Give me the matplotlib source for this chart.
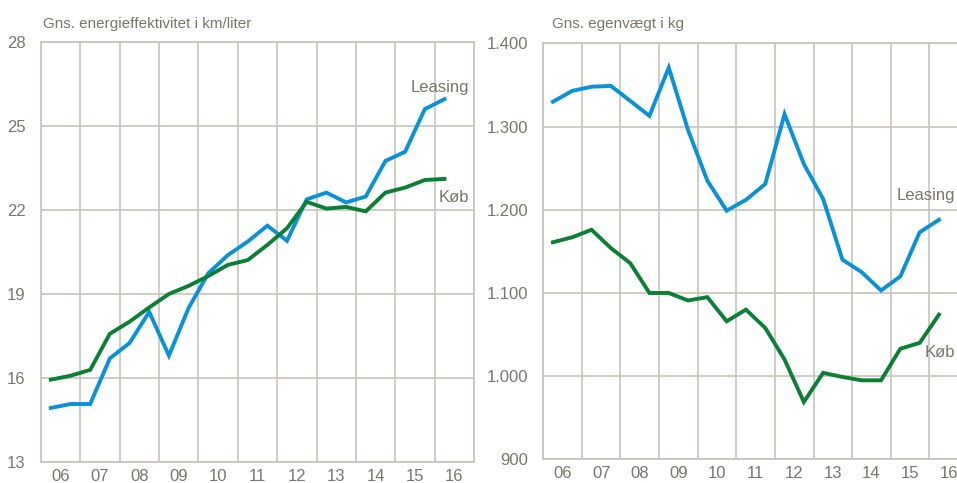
import numpy as np
import matplotlib
matplotlib.use("Agg")
import matplotlib.pyplot as plt
from matplotlib.ticker import FuncFormatter

# half-year observations, 2006H1 .. 2016H1
years = ['06', '07', '08', '09', '10', '11', '12', '13', '14', '15', '16']

km_leasing = [14.93, 15.07, 15.07, 16.70, 17.25, 18.36, 16.80, 18.50, 19.74, 20.39, 20.87,
              21.44, 20.90, 22.38, 22.62, 22.27, 22.48, 23.75, 24.08, 25.60, 25.96]
km_koeb = [15.94, 16.08, 16.29, 17.58, 18.01, 18.52, 19.00, 19.29, 19.64, 20.04, 20.21,
           20.75, 21.35, 22.29, 22.05, 22.11, 21.95, 22.62, 22.80, 23.07, 23.11]

kg_leasing = [1330, 1343, 1348, 1349, 1331, 1313, 1371, 1296, 1235, 1199, 1212,
              1231, 1315, 1255, 1213, 1140, 1125, 1103, 1120, 1173, 1188]
kg_koeb = [1161, 1167, 1176, 1154, 1136, 1100, 1100, 1091, 1095, 1066, 1080,
           1058, 1020, 969, 1004, 999, 995, 995, 1033, 1040, 1074]

blue = '#0a92d8'
green = '#0b8035'
gridc = '#c7c4b9'
textc = '#7a766b'

plt.rcParams['font.family'] = ['Liberation Sans', 'DejaVu Sans']

fig = plt.figure(figsize=(9.57, 4.83), dpi=100)
ax1 = fig.add_axes([0.0428, 0.0435, 0.4525, 0.8696])
ax2 = fig.add_axes([0.5677, 0.049, 0.4437, 0.861])

xs = np.arange(len(km_leasing)) * 0.5 + 0.25


def style(ax, yticks, fmt=None):
    ax.set_xlim(0, 11)
    ax.set_ylim(yticks[0], yticks[-1])
    ax.set_xticks(np.arange(0, 12))
    ax.set_xticklabels([])
    ax.set_xticks(np.arange(11) + 0.5, minor=True)
    ax.set_xticklabels(years, minor=True)
    ax.set_yticks(yticks)
    if fmt:
        ax.yaxis.set_major_formatter(FuncFormatter(fmt))
    ax.grid(True, which='major', color=gridc, linewidth=1.2)
    ax.tick_params(which='both', length=0, colors=textc, labelsize=12)
    ax.tick_params(axis='y', pad=11)
    ax.tick_params(axis='x', which='minor', pad=5)
    for s in ax.spines.values():
        s.set_color(gridc)
        s.set_linewidth(1.2)
    ax.set_axisbelow(True)


ax1.plot(xs, km_leasing, color=blue, lw=2.8, solid_joinstyle='miter')
ax1.plot(xs, km_koeb, color=green, lw=2.8, solid_joinstyle='miter')
style(ax1, [13, 16, 19, 22, 25, 28])
ax1.text(10.88, 26.12, 'Leasing', color=textc, fontsize=12, ha='right', va='bottom')
ax1.text(10.88, 22.7, 'Køb', color=textc, fontsize=12, ha='right', va='top')
fig.text(0.045, 0.95, 'Gns. energieffektivitet i km/liter', color=textc, fontsize=11,
         va='center')

ax2.plot(xs, kg_leasing, color=blue, lw=2.8, solid_joinstyle='miter')
ax2.plot(xs, kg_koeb, color=green, lw=2.8, solid_joinstyle='miter')
style(ax2, [900, 1000, 1100, 1200, 1300, 1400],
      fmt=lambda v, p: '{:,.0f}'.format(v).replace(',', '.'))
ax2.text(10.66, 1208, 'Leasing', color=textc, fontsize=12, ha='right', va='bottom')
ax2.text(10.66, 1028, 'Køb', color=textc, fontsize=12, ha='right', va='center')
fig.text(0.577, 0.95, 'Gns. egenvægt i kg', color=textc, fontsize=11, va='center')

fig.savefig('out.png', dpi=100)
